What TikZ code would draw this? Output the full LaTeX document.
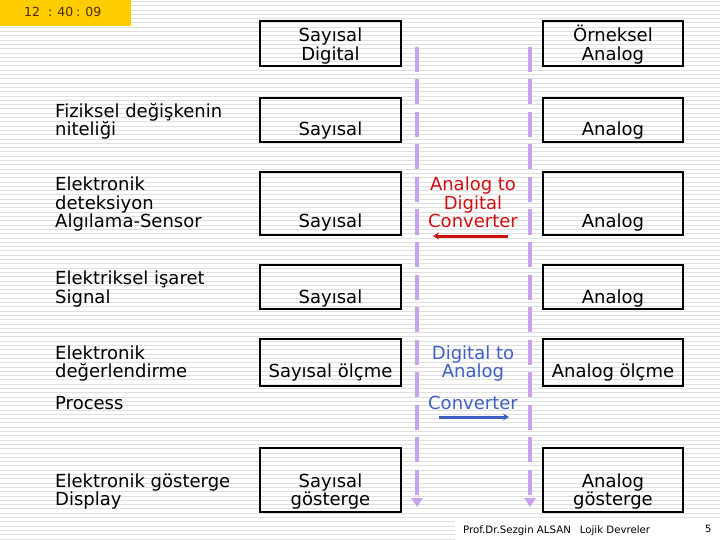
\documentclass[tikz,border=0pt]{standalone}
\usepackage{fontspec}
\setmainfont{DejaVu Sans}
\usetikzlibrary{arrows.meta}
\definecolor{mor}{HTML}{C8A2EC}
\definecolor{kirmizi}{HTML}{CC1111}
\definecolor{mavi}{HTML}{3F5FC0}
\definecolor{sari}{HTML}{FFCC00}
\definecolor{kahve}{HTML}{4A2C00}
\begin{document}
\begin{tikzpicture}[x=1pt,y=-1pt,
	kutu/.style={draw,line width=2pt,minimum width=140.5pt},
	yazi/.style={font=\fontsize{18}{18.5}\selectfont,inner sep=0pt,anchor=base,align=center},
	sol/.style={yazi,anchor=base west,align=left}]
		\useasboundingbox (0,0) rectangle (720,540);
		\foreach \y in {1.5,5.8,...,540} \draw[gray!25,line width=1pt] (0,\y)--(720,\y); %arka plan
		\fill[sari] (0,0) rectangle (131,26.5);
		\node[font=\fontsize{12.5}{15}\selectfont,text=kahve,inner sep=0pt,anchor=base west] (saat) at (24,17) {12\hspace{8pt}:\hspace{5pt}40\hspace{3pt}:\hspace{5pt}09};
		\fill[white] (455,521) rectangle (720,540);
		%kutular
		\node[kutu,minimum height=45.3pt] (d0) at (330.5,43.65) {};
		\node[kutu,minimum height=45.3pt] (a0) at (613,43.65) {};
		\node[kutu,minimum height=44pt] (d1) at (330.5,119.7) {};
		\node[kutu,minimum height=44pt] (a1) at (613,119.7) {};
		\node[kutu,minimum height=62.7pt] (d2) at (330.5,203.35) {};
		\node[kutu,minimum height=62.7pt] (a2) at (613,203.35) {};
		\node[kutu,minimum height=44pt] (d3) at (330.5,287) {};
		\node[kutu,minimum height=44pt] (a3) at (613,287) {};
		\node[kutu,minimum height=46.4pt] (d4) at (330.5,362.5) {};
		\node[kutu,minimum height=46.4pt] (a4) at (613,362.5) {};
		\node[kutu,minimum height=63.4pt] (d6) at (330.5,480) {};
		\node[kutu,minimum height=63.4pt] (a6) at (613,480) {};
		%kutu yazilari (base = son satir)
		\node[yazi] (d0t) at (330.5,60.2) {Sayısal\\Digital};
		\node[yazi] (a0t) at (613,60.2) {Örneksel\\Analog};
		\node[yazi] (d1t) at (330.5,135.7) {Sayısal};
		\node[yazi] (a1t) at (613,135.7) {Analog};
		\node[yazi] (d2t) at (330.5,227.7) {Sayısal};
		\node[yazi] (a2t) at (613,227.7) {Analog};
		\node[yazi] (d3t) at (330.5,303.3) {Sayısal};
		\node[yazi] (a3t) at (613,303.3) {Analog};
		\node[yazi] (d4t) at (330.5,377.7) {Sayısal ölçme};
		\node[yazi] (a4t) at (613,377.7) {Analog ölçme};
		\node[yazi] (d6t) at (330.5,505.5) {Sayısal\\gösterge};
		\node[yazi] (a6t) at (613,505.5) {Analog\\gösterge};
		%sol sutun
		\node[sol] (l1) at (55,136) {Fiziksel değişkenin\\niteliği};
		\node[sol] (l2) at (55,227.7) {Elektronik\\deteksiyon\\Algılama-Sensor};
		\node[sol] (l3) at (55,303.3) {Elektriksel işaret\\Signal};
		\node[sol] (l4) at (55,377.7) {Elektronik\\değerlendirme};
		\node[sol] (l5) at (55,409.3) {Process};
		\node[sol] (l6) at (55,505.5) {Elektronik gösterge\\Display};
		%donusturuculer
		\node[yazi,text=kirmizi] (adc) at (473,227.7) {Analog to\\Digital\\Converter};
		\node[yazi,text=mavi] (dac) at (473,377.7) {Digital to\\Analog};
		\node[yazi,text=mavi] (dacc) at (473,409.3) {Converter};
		\coordinate (adbas) at (508,236);
		\coordinate (adson) at (433,236);
		\coordinate (dabas) at (439,417);
		\coordinate (dason) at (509,417);
		\draw[kirmizi,line width=3pt,-{Stealth[length=6pt,width=7pt]}] (adbas)--(adson);
		\draw[mavi,line width=3pt,-{Stealth[length=6pt,width=7pt]}] (dabas)--(dason);
		%kesikli oklar
		\coordinate (sust) at (417,47);
		\coordinate (salt) at (417,507);
		\coordinate (rust) at (530,47);
		\coordinate (ralt) at (530,507);
		\draw[mor,line width=4.5pt,dash pattern=on 25pt off 7.5pt,-{Triangle[width=11pt,length=9pt]}] (sust)--(salt);
		\draw[mor,line width=4.5pt,dash pattern=on 25pt off 7.5pt,-{Triangle[width=11pt,length=9pt]}] (rust)--(ralt);
		%alt bilgi
		\node[font=\fontsize{10.2}{11}\selectfont,inner sep=0pt,anchor=base west] (imza) at (463,533) {Prof.Dr.Sezgin ALSAN\hspace{9pt}Lojik Devreler};
		\node[font=\fontsize{10}{11}\selectfont,inner sep=0pt,anchor=base west] (sayfa) at (705,532) {5};
	\end{tikzpicture}
\end{document}
